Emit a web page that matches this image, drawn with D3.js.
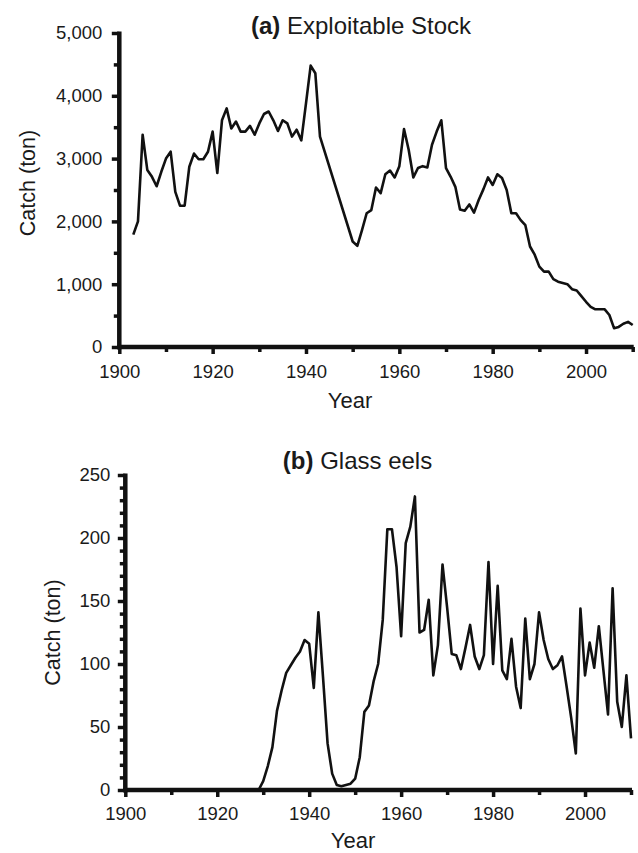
<!DOCTYPE html>
<html>
<head>
<meta charset="utf-8">
<script src="https://cdn.jsdelivr.net/npm/d3@7"></script>
<style>
body { margin: 0; background: #fff; }
svg { font-family: "Liberation Sans", Arial, sans-serif; }
.axis text { fill: #1a1a1a; font-size: 18.5px; }
</style>
</head>
<body>
<svg width="638" height="853"></svg>
<script>
// (a) exploitable stock catch, tons (no points between 1943 and 1950)
var stockYears = [1903, 1904, 1905, 1906, 1907, 1908, 1909, 1910, 1911, 1912,
    1913, 1914, 1915, 1916, 1917, 1918, 1919, 1920, 1921, 1922,
    1923, 1924, 1925, 1926, 1927, 1928, 1929, 1930, 1931, 1932,
    1933, 1934, 1935, 1936, 1937, 1938, 1939, 1940, 1941, 1942, 1943,
    1950, 1951, 1952, 1953, 1954, 1955, 1956, 1957, 1958, 1959,
    1960, 1961, 1962, 1963, 1964, 1965, 1966, 1967, 1968, 1969,
    1970, 1971, 1972, 1973, 1974, 1975, 1976, 1977, 1978, 1979,
    1980, 1981, 1982, 1983, 1984, 1985, 1986, 1987, 1988, 1989,
    1990, 1991, 1992, 1993, 1994, 1995, 1996, 1997, 1998, 1999,
    2000, 2001, 2002, 2003, 2004, 2005, 2006, 2007, 2008, 2009, 2010];
var stockCatch = [1790, 2000, 3380, 2820, 2710, 2560, 2790, 3000, 3110, 2470,
    2250, 2250, 2870, 3080, 2990, 2990, 3110, 3430, 2770, 3610,
    3800, 3480, 3590, 3430, 3430, 3520, 3380, 3560, 3710, 3750,
    3610, 3440, 3610, 3560, 3350, 3460, 3290, 3880, 4480, 4360, 3350,
    1680, 1610, 1860, 2130, 2180, 2540, 2450, 2750, 2810, 2700,
    2880, 3470, 3140, 2700, 2850, 2880, 2860, 3220, 3430, 3610,
    2850, 2710, 2550, 2190, 2170, 2270, 2140, 2340, 2510, 2700,
    2580, 2750, 2690, 2500, 2130, 2130, 2020, 1940, 1600, 1470,
    1280, 1200, 1200, 1080, 1040, 1020, 1000, 920, 900, 810,
    720, 640, 600, 600, 600, 510, 300, 320, 370, 400, 350];

// (b) glass eel catch, tons
var eelYears = [1929, 1930, 1931, 1932, 1933, 1934, 1935, 1936, 1937, 1938, 1939,
    1940, 1941, 1942, 1943, 1944, 1945, 1946, 1947, 1948, 1949,
    1950, 1951, 1952, 1953, 1954, 1955, 1956, 1957, 1958, 1959,
    1960, 1961, 1962, 1963, 1964, 1965, 1966, 1967, 1968, 1969,
    1970, 1971, 1972, 1973, 1974, 1975, 1976, 1977, 1978, 1979,
    1980, 1981, 1982, 1983, 1984, 1985, 1986, 1987, 1988, 1989,
    1990, 1991, 1992, 1993, 1994, 1995, 1996, 1997, 1998, 1999,
    2000, 2001, 2002, 2003, 2004, 2005, 2006, 2007, 2008, 2009, 2010];
var eelCatch = [0, 7, 19, 34, 63, 79, 93, 99, 105, 110, 119,
    116, 81, 141, 90, 37, 13, 4, 3, 4, 5,
    9, 26, 62, 67, 86, 100, 135, 207, 207, 177,
    122, 196, 209, 233, 125, 127, 151, 91, 115, 179,
    145, 108, 107, 96, 113, 131, 106, 96, 107, 181,
    100, 162, 95, 88, 120, 82, 65, 136, 88, 100,
    141, 119, 104, 96, 99, 106, 82, 57, 29, 144,
    91, 117, 97, 130, 95, 60, 160, 70, 50, 91, 41];

var yearTicks = [1900, 1920, 1940, 1960, 1980, 2000];
var yearMinor = [1910, 1930, 1950, 1970, 1990, 2010];
var stockTicks = [0, 1000, 2000, 3000, 4000, 5000];
var stockMinor = [500, 1500, 2500, 3500, 4500];
var eelTicks = [0, 50, 100, 150, 200, 250];
var eelMinor = [10, 20, 30, 40, 60, 70, 80, 90, 110, 120, 130, 140,
    160, 170, 180, 190, 210, 220, 230, 240];

var svg = d3.select("svg");

function drawPanel(p) {
    var x = d3.scaleLinear().domain([1900, 2010]).range([p.left, p.right]);
    var y = d3.scaleLinear().domain([0, p.max]).range([p.bottom, p.top]);
    var g = svg.append("g");

    // ticks come from d3 axes, the heavy axis bars are filled rects
    function ticks(a) {
        a.select(".domain").remove();
        a.selectAll(".tick line").attr("stroke", "#111").attr("stroke-width", 3.5);
    }

    g.append("g")
        .attr("class", "axis")
        .attr("transform", "translate(0," + p.bottom + ")")
        .call(d3.axisBottom(x).tickValues(yearMinor).tickSize(5).tickFormat(""))
        .call(ticks);

    g.append("g")
        .attr("class", "axis")
        .attr("transform", "translate(" + p.left + ",0)")
        .call(d3.axisLeft(y).tickValues(p.minor).tickSize(5.5).tickFormat(""))
        .call(ticks);

    g.append("g")
        .attr("class", "axis")
        .attr("transform", "translate(0," + p.bottom + ")")
        .call(d3.axisBottom(x).tickValues(yearTicks).tickSize(7)
            .tickPadding(p.xPad).tickFormat(d3.format("d")))
        .call(ticks);

    g.append("g")
        .attr("class", "axis")
        .attr("transform", "translate(" + p.left + ",0)")
        .call(d3.axisLeft(y).tickValues(p.ticks).tickSize(7.5)
            .tickPadding(p.yPad).tickFormat(d3.format(",")))
        .call(ticks);

    var bar = 4.5;
    g.append("rect")
        .attr("x", x(1900) - bar / 2)
        .attr("y", y(0) - bar / 2)
        .attr("width", x(2010) - x(1900) + bar / 2 + 1)
        .attr("height", bar)
        .attr("fill", "#111");

    g.append("rect")
        .attr("x", x(1900) - bar / 2)
        .attr("y", y(p.max) - 1.5)
        .attr("width", bar)
        .attr("height", y(0) - y(p.max) + 1.5 + bar / 2)
        .attr("fill", "#111");

    var line = d3.line()
        .x(function (d) { return x(d[0]); })
        .y(function (d) { return y(d[1]); });

    g.append("path")
        .datum(d3.zip(p.years, p.values))
        .attr("fill", "none")
        .attr("stroke", "#111")
        .attr("stroke-width", 2.6)
        .attr("stroke-linejoin", "round")
        .attr("d", line);

    var t = g.append("text")
        .attr("x", p.titleX)
        .attr("y", p.titleY)
        .attr("text-anchor", "middle")
        .style("font-size", "24px")
        .attr("fill", "#1a1a1a");
    t.append("tspan").style("font-weight", "bold").text(p.tag);
    t.append("tspan").text(" " + p.title);

    g.append("text")
        .attr("x", p.yearX)
        .attr("y", p.yearY)
        .attr("text-anchor", "middle")
        .style("font-size", "22px")
        .attr("fill", "#1a1a1a")
        .text("Year");

    g.append("text")
        .attr("transform", "translate(" + p.labX + "," + p.labY + ") rotate(-90)")
        .attr("dy", "0.35em")
        .attr("text-anchor", "middle")
        .style("font-size", "21.5px")
        .attr("fill", "#1a1a1a")
        .text("Catch (ton)");
}

drawPanel({
    years: stockYears, values: stockCatch, max: 5000,
    ticks: stockTicks, minor: stockMinor,
    left: 119.3, right: 632.7, top: 33, bottom: 347,
    xPad: 11, yPad: 9.5,
    tag: "(a)", title: "Exploitable Stock", titleX: 361, titleY: 34,
    yearX: 350, yearY: 408, labX: 27, labY: 183
});

drawPanel({
    years: eelYears, values: eelCatch, max: 250,
    ticks: eelTicks, minor: eelMinor,
    left: 125.3, right: 631, top: 475, bottom: 790,
    xPad: 10, yPad: 7.5,
    tag: "(b)", title: "Glass eels", titleX: 357.5, titleY: 469,
    yearX: 353, yearY: 848, labX: 52, labY: 632.5
});
</script>
</body>
</html>
